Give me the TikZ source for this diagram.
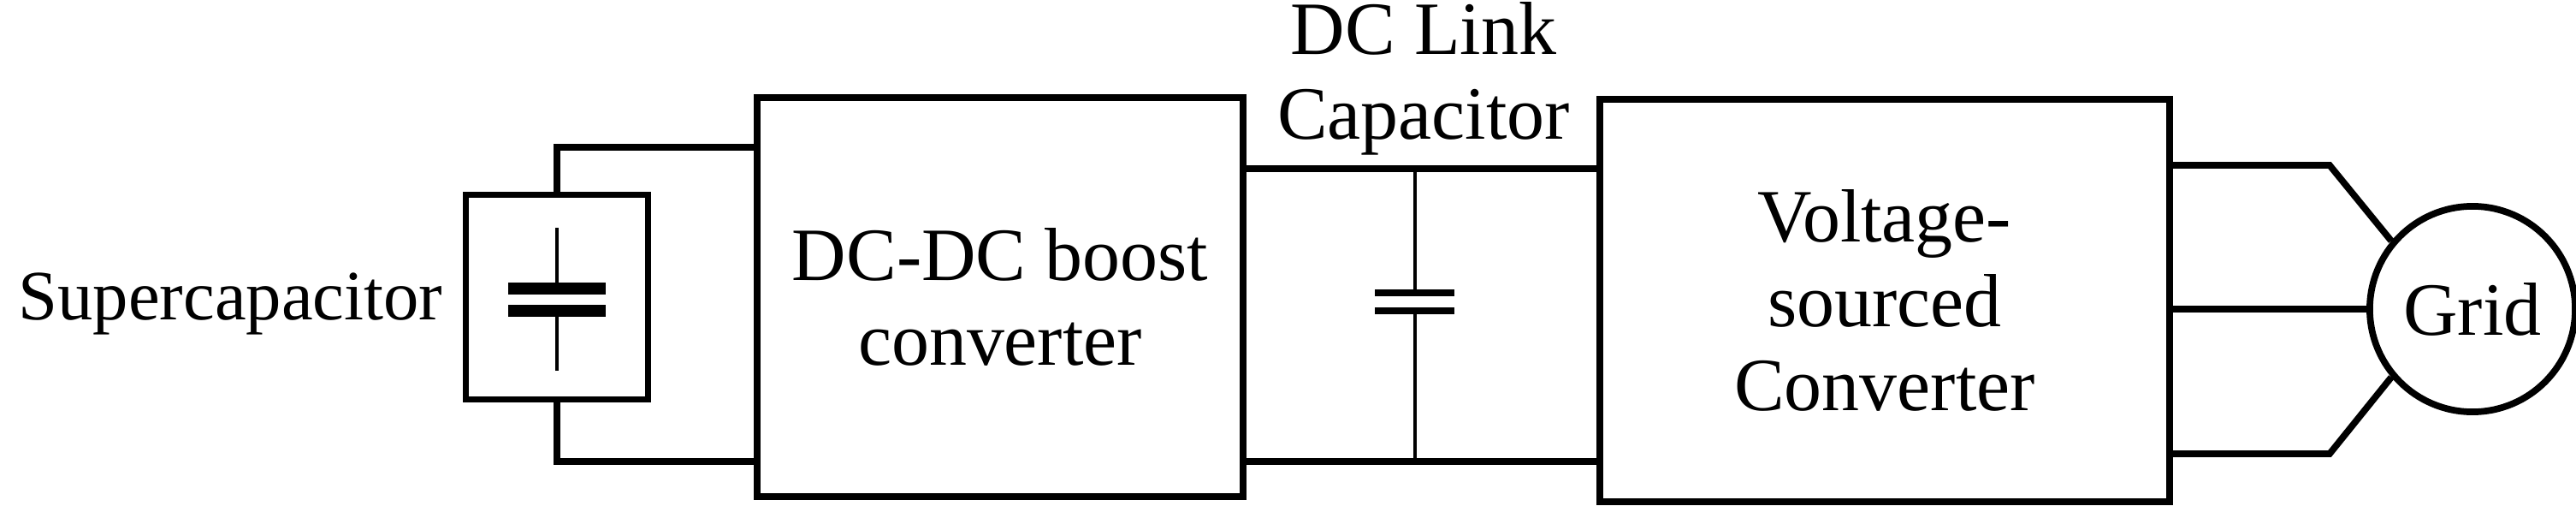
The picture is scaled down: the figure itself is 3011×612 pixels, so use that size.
\documentclass[tikz,border=0pt]{standalone}
\usepackage{fontspec}
\setmainfont{Liberation Serif}
\usetikzlibrary{positioning}
\tikzset{
  blk/.style={draw,line width=2.2pt,align=center,inner sep=0pt,font=\fontsize{25}{28}\selectfont},
  wire/.style={line width=2.2pt},
  thin/.style={line width=1.3pt},
  plate/.style={line width=4pt},
  txt/.style={align=center,inner sep=0pt,font=\fontsize{25}{28}\selectfont}
}
\begin{document}
\begin{tikzpicture}[x=0.01cm,y=-0.01cm]
\useasboundingbox (0,0) rectangle (3011,612);
% blocks
\node[blk,minimum width=2.13cm,minimum height=2.39cm] (sc) at (651,347) {};
\node[blk,minimum width=5.67cm,minimum height=4.65cm] (boost) at (1169,347) {DC-DC boost\\converter};
\node[blk,minimum width=6.65cm,minimum height=4.69cm] (vsc) at (2203,351) {Voltage-\\sourced\\Converter};
\node[draw,circle,line width=2.2pt,minimum size=2.4cm,inner sep=0pt,font=\fontsize{25}{28}\selectfont] (grid) at (2890,361) {Grid};
\node[txt,anchor=east,font=\fontsize{23.5}{28}\selectfont] (sclabel) at (518,355) {Supercapacitor};
\node[txt] (dclabel) at (1664,92) {DC Link\\Capacitor};
% supercapacitor
\coordinate (sct) at (651,266);
\coordinate (scb) at (651,433);
\draw[thin] (sct) -- (651,337);
\draw[thin] (scb) -- (651,363);
\draw[plate] (594,337) -- (708,337);
\draw[plate] (594,363) -- (708,363);
\draw[wire] (sc.north) |- (boost.west |- 0,172);
\draw[wire] (sc.south) |- (boost.west |- 0,539);
% dc link
\draw[wire] (boost.east |- 0,197) -- (vsc.west |- 0,197);
\draw[wire] (boost.east |- 0,539) -- (vsc.west |- 0,539);
\coordinate (dct) at (1654,197);
\coordinate (dcb) at (1654,539);
\draw[thin] (dct) -- (1654,342);
\draw[thin] (dcb) -- (1654,363);
\draw[line width=2.5pt] (1607,342) -- (1700,342);
\draw[line width=2.5pt] (1607,363) -- (1700,363);
% grid
\coordinate (g1) at (2723,193);
\coordinate (g3) at (2723,530);
\draw[wire] (vsc.east |- g1) -- (g1) -- (grid.140);
\draw[wire] (vsc.east |- grid.west) -- (grid.west);
\draw[wire] (vsc.east |- g3) -- (g3) -- (grid.220);
\end{tikzpicture}
\end{document}
